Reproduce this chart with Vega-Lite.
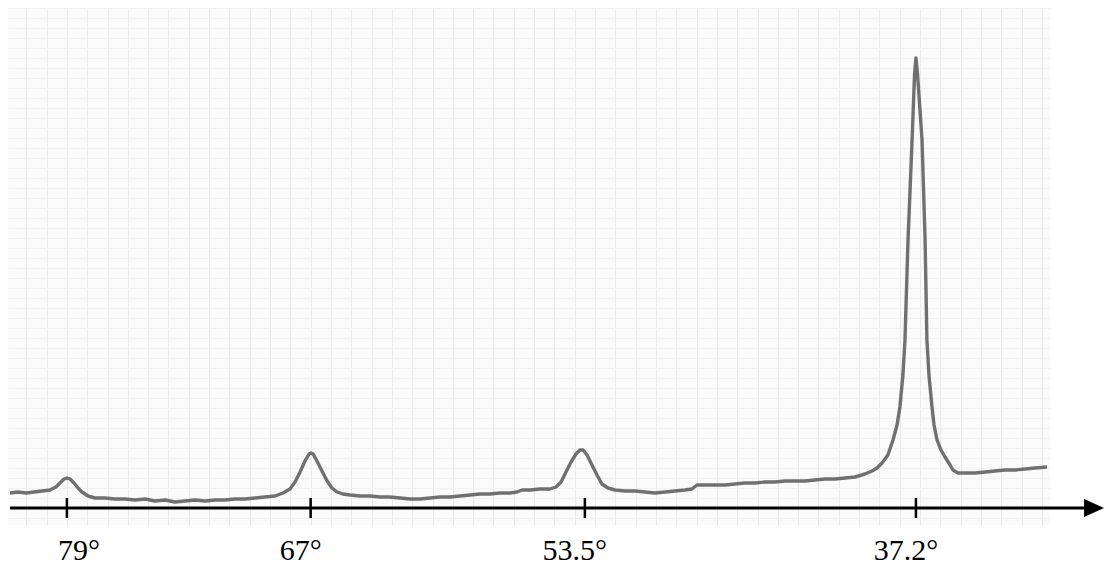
{
  "$schema": "https://vega.github.io/schema/vega-lite/v6.json",
  "width": 1042,
  "height": 517,
  "autosize": "none",
  "padding": {"left": 8, "top": 8, "right": 54, "bottom": 63},
  "background": "white",
  "config": {
    "view": {"stroke": null, "fill": "#fafafa"},
    "axis": {"grid": true, "domain": false, "ticks": false, "labels": false, "titleOpacity": 0, "gridWidth": 1},
    "axisX": {"tickCount": 52, "gridColor": "#e9e9e9"},
    "axisY": {"tickCount": 60, "gridColor": "#f1f1f1"}
  },
  "datasets": {
    "pattern": [
      {"angle": 81.80, "intensity": 15}, {"angle": 81.41, "intensity": 16}, {"angle": 81.01, "intensity": 15},
      {"angle": 80.62, "intensity": 16}, {"angle": 80.22, "intensity": 17}, {"angle": 79.83, "intensity": 18},
      {"angle": 79.54, "intensity": 21}, {"angle": 79.34, "intensity": 25}, {"angle": 79.14, "intensity": 29},
      {"angle": 78.99, "intensity": 30}, {"angle": 78.85, "intensity": 29}, {"angle": 78.65, "intensity": 25},
      {"angle": 78.45, "intensity": 20}, {"angle": 78.26, "intensity": 16}, {"angle": 77.96, "intensity": 12},
      {"angle": 77.62, "intensity": 10}, {"angle": 77.12, "intensity": 10}, {"angle": 76.63, "intensity": 9},
      {"angle": 76.14, "intensity": 9}, {"angle": 75.65, "intensity": 8}, {"angle": 75.15, "intensity": 9},
      {"angle": 74.66, "intensity": 7}, {"angle": 74.17, "intensity": 8}, {"angle": 73.68, "intensity": 6},
      {"angle": 73.19, "intensity": 7}, {"angle": 72.69, "intensity": 8}, {"angle": 72.20, "intensity": 7},
      {"angle": 71.71, "intensity": 8}, {"angle": 71.22, "intensity": 8}, {"angle": 70.72, "intensity": 9},
      {"angle": 70.23, "intensity": 9}, {"angle": 69.74, "intensity": 10}, {"angle": 69.25, "intensity": 11},
      {"angle": 68.75, "intensity": 12}, {"angle": 68.36, "intensity": 15}, {"angle": 68.02, "intensity": 19},
      {"angle": 67.77, "intensity": 26}, {"angle": 67.52, "intensity": 36}, {"angle": 67.28, "intensity": 47},
      {"angle": 67.08, "intensity": 54}, {"angle": 66.98, "intensity": 55}, {"angle": 66.88, "intensity": 54},
      {"angle": 66.69, "intensity": 47}, {"angle": 66.44, "intensity": 37}, {"angle": 66.19, "intensity": 27},
      {"angle": 65.95, "intensity": 20}, {"angle": 65.70, "intensity": 16}, {"angle": 65.41, "intensity": 14},
      {"angle": 65.06, "intensity": 13}, {"angle": 64.57, "intensity": 12}, {"angle": 64.08, "intensity": 12},
      {"angle": 63.58, "intensity": 11}, {"angle": 63.09, "intensity": 11}, {"angle": 62.60, "intensity": 10},
      {"angle": 62.11, "intensity": 9}, {"angle": 61.62, "intensity": 9}, {"angle": 61.12, "intensity": 10},
      {"angle": 60.63, "intensity": 11}, {"angle": 60.14, "intensity": 11}, {"angle": 59.65, "intensity": 12},
      {"angle": 59.15, "intensity": 13}, {"angle": 58.66, "intensity": 14}, {"angle": 58.17, "intensity": 14},
      {"angle": 57.68, "intensity": 15}, {"angle": 57.19, "intensity": 15}, {"angle": 56.84, "intensity": 16},
      {"angle": 56.59, "intensity": 18}, {"angle": 56.20, "intensity": 18}, {"angle": 55.71, "intensity": 19},
      {"angle": 55.22, "intensity": 19}, {"angle": 54.92, "intensity": 21}, {"angle": 54.67, "intensity": 26},
      {"angle": 54.43, "intensity": 36}, {"angle": 54.18, "intensity": 46}, {"angle": 53.94, "intensity": 54},
      {"angle": 53.74, "intensity": 58}, {"angle": 53.59, "intensity": 58}, {"angle": 53.39, "intensity": 53},
      {"angle": 53.15, "intensity": 43}, {"angle": 52.90, "intensity": 33}, {"angle": 52.66, "intensity": 24},
      {"angle": 52.36, "intensity": 20}, {"angle": 52.02, "intensity": 18}, {"angle": 51.52, "intensity": 17},
      {"angle": 51.03, "intensity": 17}, {"angle": 50.54, "intensity": 16}, {"angle": 50.05, "intensity": 15},
      {"angle": 49.55, "intensity": 16}, {"angle": 49.06, "intensity": 17}, {"angle": 48.57, "intensity": 18},
      {"angle": 48.23, "intensity": 19}, {"angle": 47.98, "intensity": 23}, {"angle": 47.59, "intensity": 23},
      {"angle": 47.09, "intensity": 23}, {"angle": 46.60, "intensity": 23}, {"angle": 46.11, "intensity": 24},
      {"angle": 45.62, "intensity": 25}, {"angle": 45.12, "intensity": 25}, {"angle": 44.63, "intensity": 26},
      {"angle": 44.14, "intensity": 26}, {"angle": 43.65, "intensity": 27}, {"angle": 43.15, "intensity": 27},
      {"angle": 42.66, "intensity": 27}, {"angle": 42.17, "intensity": 28}, {"angle": 41.68, "intensity": 29},
      {"angle": 41.19, "intensity": 29}, {"angle": 40.69, "intensity": 30}, {"angle": 40.20, "intensity": 31},
      {"angle": 39.71, "intensity": 34}, {"angle": 39.36, "intensity": 37}, {"angle": 39.12, "intensity": 40},
      {"angle": 38.87, "intensity": 45}, {"angle": 38.58, "intensity": 53}, {"angle": 38.33, "intensity": 68},
      {"angle": 38.13, "intensity": 83}, {"angle": 37.99, "intensity": 101}, {"angle": 37.84, "intensity": 133},
      {"angle": 37.74, "intensity": 168}, {"angle": 37.59, "intensity": 268}, {"angle": 37.39, "intensity": 368},
      {"angle": 37.27, "intensity": 433}, {"angle": 37.20, "intensity": 450}, {"angle": 37.12, "intensity": 433},
      {"angle": 36.90, "intensity": 368}, {"angle": 36.75, "intensity": 268}, {"angle": 36.66, "intensity": 168},
      {"angle": 36.56, "intensity": 133}, {"angle": 36.41, "intensity": 101}, {"angle": 36.31, "intensity": 83},
      {"angle": 36.16, "intensity": 68}, {"angle": 35.97, "intensity": 58}, {"angle": 35.77, "intensity": 51},
      {"angle": 35.52, "intensity": 43}, {"angle": 35.38, "intensity": 38}, {"angle": 35.13, "intensity": 35},
      {"angle": 34.79, "intensity": 35}, {"angle": 34.29, "intensity": 35}, {"angle": 33.80, "intensity": 36},
      {"angle": 33.31, "intensity": 37}, {"angle": 32.82, "intensity": 38}, {"angle": 32.32, "intensity": 38},
      {"angle": 31.83, "intensity": 39}, {"angle": 31.34, "intensity": 40}, {"angle": 30.75, "intensity": 41}
    ],
    "peaks": [
      {"angle": 79, "label": "79°"},
      {"angle": 67, "label": "67°"},
      {"angle": 53.5, "label": "53.5°"},
      {"angle": 37.2, "label": "37.2°"}
    ],
    "axisline": [{"start": 81.8, "end": 28.9, "level": 0, "tip": 28.43}]
  },
  "layer": [
    {
      "data": {"name": "pattern"},
      "mark": {"type": "line", "color": "#707070", "strokeWidth": 3.4, "strokeJoin": "round"},
      "encoding": {
        "x": {"field": "angle", "type": "quantitative", "title": null,
              "scale": {"domain": [30.6, 81.9], "reverse": true, "nice": false, "zero": false}},
        "y": {"field": "intensity", "type": "quantitative", "title": null,
              "scale": {"domain": [-17, 500], "nice": false, "zero": false}}
      }
    },
    {
      "data": {"name": "axisline"},
      "mark": {"type": "rule", "color": "black", "strokeWidth": 3},
      "encoding": {
        "x": {"field": "start", "type": "quantitative", "title": null},
        "x2": {"field": "end"},
        "y": {"field": "level", "type": "quantitative", "title": null}
      }
    },
    {
      "data": {"name": "axisline"},
      "mark": {"type": "point", "shape": "M-1,-0.9L1,0L-1,0.9Z", "filled": true, "color": "black", "opacity": 1, "size": 400},
      "encoding": {
        "x": {"field": "tip", "type": "quantitative", "title": null},
        "y": {"field": "level", "type": "quantitative", "title": null}
      }
    },
    {
      "data": {"name": "peaks"},
      "mark": {"type": "rule", "color": "black", "strokeWidth": 2.5},
      "encoding": {
        "x": {"field": "angle", "type": "quantitative", "title": null},
        "y": {"datum": -10},
        "y2": {"datum": 10}
      }
    },
    {
      "data": {"name": "peaks"},
      "transform": [{"filter": "datum.angle > 70"}],
      "mark": {"type": "text", "font": "Liberation Serif", "fontSize": 30, "color": "black", "align": "center", "baseline": "alphabetic", "dx": 12},
      "encoding": {
        "x": {"field": "angle", "type": "quantitative", "title": null},
        "y": {"datum": -52},
        "text": {"field": "label"}
      }
    },
    {
      "data": {"name": "peaks"},
      "transform": [{"filter": "datum.angle < 70"}],
      "mark": {"type": "text", "font": "Liberation Serif", "fontSize": 30, "color": "black", "align": "center", "baseline": "alphabetic", "dx": -10},
      "encoding": {
        "x": {"field": "angle", "type": "quantitative", "title": null},
        "y": {"datum": -52},
        "text": {"field": "label"}
      }
    }
  ]
}
